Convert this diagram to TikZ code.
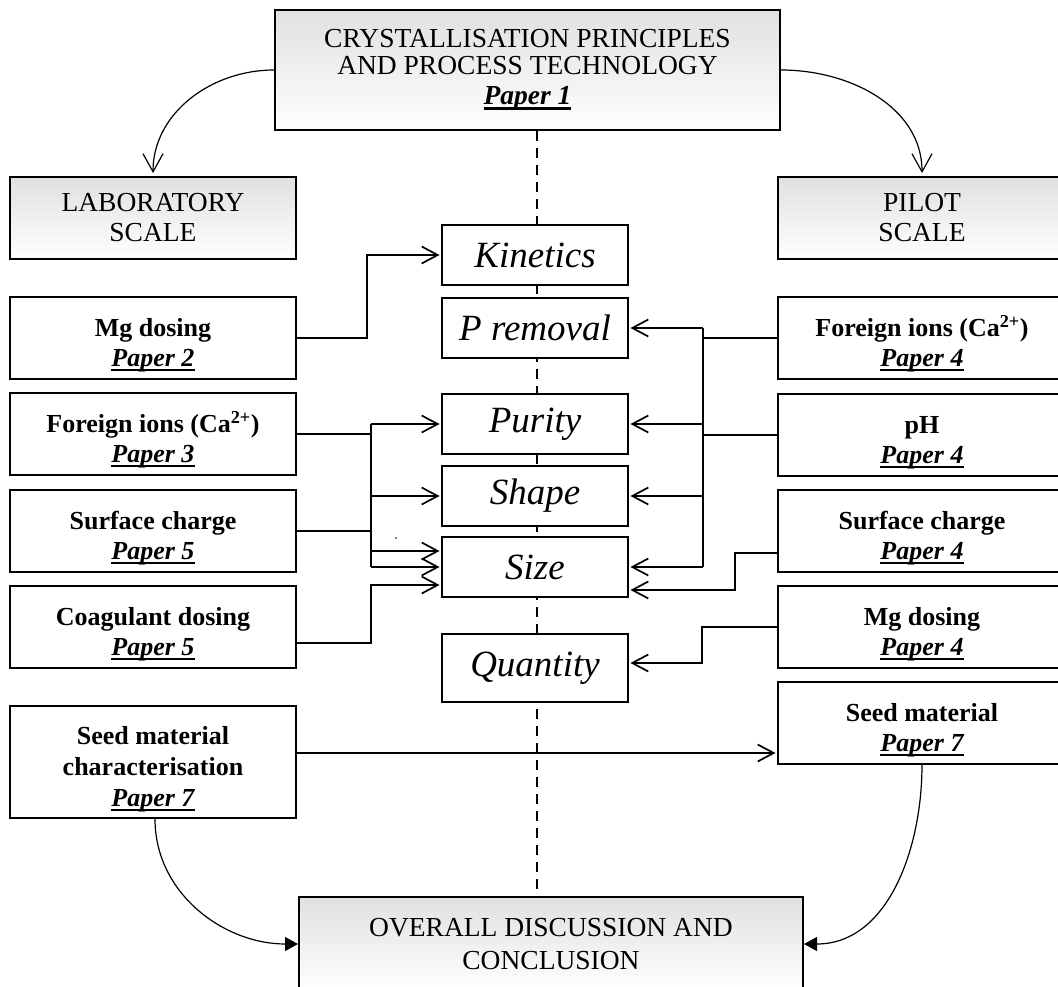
\documentclass[tikz,border=0pt]{standalone}
\usepackage{fontspec}
\setmainfont{Liberation Serif}
\usetikzlibrary{arrows.meta}
\newsavebox\papbox
\newcommand\pap[1]{\sbox\papbox{\bfseries\itshape #1}\rlap{\rule[-5pt]{\wd\papbox}{2.6pt}}\usebox\papbox}
\newcommand\tstrut{\rule{0pt}{32pt}}
\begin{document}
\begin{tikzpicture}[x=1pt,y=-1pt,
  bx/.style={draw=black, line width=2pt, fill=white, inner sep=2pt, align=center,
    font=\fontsize{26}{30}\selectfont\bfseries},
  gbx/.style={bx, top color=black!12, bottom color=white,
    font=\fontsize{27.5}{27}\selectfont\mdseries},
  mbx/.style={bx, minimum width=186pt, font=\fontsize{37}{40}\selectfont\mdseries\itshape},
  lbx/.style={bx, minimum width=286pt},
  rbx/.style={bx, minimum width=288pt},
  plain/.style={line width=2pt},
  conn/.style={line width=2pt, shorten >=1.5pt, -{Straight Barb[length=16pt,width=17pt,line width=1.7pt]}},
  crv/.style={line width=1.2pt},
  dashln/.style={line width=1.7pt, dash pattern=on 10pt off 7pt},
]
\clip (0,0) rectangle (1058,987);
\fill[white] (0,0) rectangle (1058,987);
\coordinate (dl) at (537,0);
\coordinate (bL) at (371,0);
\coordinate (bR) at (703,0);

% top and bottom
\node[gbx, minimum width=505pt, minimum height=120pt] (top) at (527.5,70)
  {CRYSTALLISATION PRINCIPLES\\AND PROCESS TECHNOLOGY\\[3pt]\pap{Paper 1}};
\node[gbx, minimum width=504pt, minimum height=94pt, font=\fontsize{27.5}{33}\selectfont\mdseries] (bot) at (551,944)
  {OVERALL DISCUSSION AND\\CONCLUSION};
\draw[dashln] (dl |- top.south) -- (dl |- bot.north);

\node[gbx, minimum width=286pt, minimum height=82pt, font=\fontsize{27.5}{30}\selectfont\mdseries] (lab) at (153,218) {LABORATORY\\SCALE};
\node[gbx, minimum width=288pt, minimum height=82pt, font=\fontsize{27.5}{30}\selectfont\mdseries] (pilot) at (922,218) {PILOT\\SCALE};

% middle column
\node[mbx, minimum height=60pt] (kin) at (535,255) {Kinetics};
\node[mbx, minimum height=60pt] (prem) at (535,328) {P removal};
\node[mbx, minimum height=60pt] (pur) at (535,424) {Purity};
\node[mbx, minimum height=60pt] (shp) at (535,496) {Shape};
\node[mbx, minimum height=60pt] (siz) at (535,567) {Size};
\node[mbx, minimum height=68pt] (qty) at (535,668) {Quantity};

% left column
\node[lbx, minimum height=82pt] (mgL) at (153,338) {\tstrut Mg dosing\\\pap{Paper 2}};
\node[lbx, minimum height=82pt] (fiL) at (153,434) {\tstrut Foreign ions (Ca\textsuperscript{2+})\\\pap{Paper 3}};
\node[lbx, minimum height=82pt] (scL) at (153,531) {\tstrut Surface charge\\\pap{Paper 5}};
\node[lbx, minimum height=82pt] (coL) at (153,627) {\tstrut Coagulant dosing\\\pap{Paper 5}};
\node[lbx, minimum height=112pt, font=\fontsize{26}{31}\selectfont\bfseries] (sdL) at (153,762) {\tstrut Seed material\\characterisation\\\pap{Paper 7}};

% right column
\node[rbx, minimum height=82pt] (fiR) at (922,338) {\tstrut Foreign ions (Ca\textsuperscript{2+})\\\pap{Paper 4}};
\node[rbx, minimum height=82pt] (phR) at (922,435) {\tstrut pH\\\pap{Paper 4}};
\node[rbx, minimum height=82pt] (scR) at (922,531) {\tstrut Surface charge\\\pap{Paper 4}};
\node[rbx, minimum height=82pt] (mgR) at (922,627) {\tstrut Mg dosing\\\pap{Paper 4}};
\node[rbx, minimum height=82pt] (sdR) at (922,723) {\tstrut Seed material\\\pap{Paper 7}};

% helper coordinates
\coordinate (sizL1) at ([yshift=16pt]siz.west);
\coordinate (sizL2) at (siz.west);
\coordinate (sizL3) at ([yshift=-18pt]siz.west);
\coordinate (sizR2) at ([yshift=-23pt]siz.east);

% left connectors
\draw[conn] (mgL.east) -- ++(70,0) |- (kin.west);
\draw[plain] (fiL.east) -- (bL |- fiL.east);
\draw[plain] (scL.east) -- (bL |- scL.east);
\draw[plain] (bL |- pur.west) -- (bL |- sizL2);
\draw[conn] (bL |- pur.west) -- (pur.west);
\draw[conn] (bL |- shp.west) -- (shp.west);
\draw[conn] (bL |- sizL1) -- (sizL1);
\draw[conn] (bL |- sizL2) -- (sizL2);
\draw[conn] ([yshift=-16pt]coL.east) -| (bL |- sizL3) -- (sizL3);
\fill (396,538) circle (0.9pt);

% right connectors
\draw[plain] (fiR.west) -- (bR |- fiR.west);
\draw[plain] (phR.west) -- (bR |- phR.west);
\draw[plain] (bR |- prem.east) -- (bR |- siz.east);
\draw[conn] (bR |- prem.east) -- (prem.east);
\draw[conn] (bR |- pur.east) -- (pur.east);
\draw[conn] (bR |- shp.east) -- (shp.east);
\draw[conn] (bR |- siz.east) -- (siz.east);
\draw[conn] ([yshift=-22pt]scR.west) -- ++(-42,0) |- (sizR2);
\draw[conn] (mgR.west) -- ++(-75,0) |- ([yshift=5pt]qty.east);

% seed arrow
\draw[conn] ([yshift=9pt]sdL.east) -- ([yshift=9pt]sdL.east -| sdR.west);

% curves
\draw[crv, shorten >=3pt, -{Straight Barb[length=18pt,width=20pt,line width=1.2pt]}] (top.west) to[out=180,in=90] (lab.north);
\draw[crv, shorten >=3pt, -{Straight Barb[length=18pt,width=20pt,line width=1.2pt]}] (top.east) to[out=0,in=90] (pilot.north);
\draw[crv, -{Triangle[length=13pt,width=14pt]}] ([xshift=2pt]sdL.south) to[out=-90,in=180] (bot.west);
\draw[crv, -{Triangle[length=13pt,width=14pt]}] (sdR.south) to[out=-90,in=0] (bot.east);
\end{tikzpicture}
\end{document}
